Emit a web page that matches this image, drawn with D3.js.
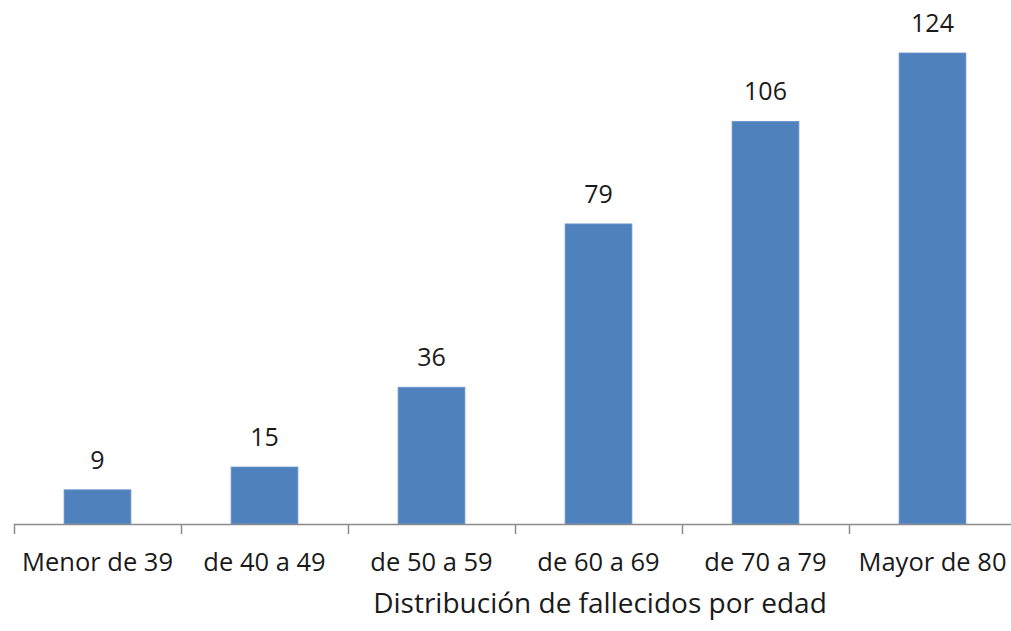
<!DOCTYPE html>
<html><head><meta charset="utf-8">
<script src="https://cdn.jsdelivr.net/npm/d3@7"></script>
<style>body{margin:0;background:#fff}svg{display:block}text{font-family:"Open Sans",sans-serif;fill:#1a1a1a}</style>
</head><body><svg id="c" width="1011" height="631"></svg>
<script>
const categories = ["Menor de 39","de 40 a 49","de 50 a 59","de 60 a 69","de 70 a 79","Mayor de 80"];
const values = [9,15,36,79,106,124];
const title = "Distribución de fallecidos por edad";

const svg = d3.select("#c");
const x = d3.scaleBand().domain(categories).range([14,1016]).paddingInner(0.6).paddingOuter(0.3);
const y = d3.scaleLinear().domain([0,124]).range([524,53]);

svg.selectAll("rect.bar").data(values).join("rect").attr("class","bar")
  .attr("x",(d,i)=>x(categories[i])).attr("width",x.bandwidth())
  .attr("y",d=>y(d)).attr("height",d=>y(0)-y(d))
  .attr("fill","#4f81bd").attr("stroke","#6b95cc").attr("stroke-width",0.8);

const bandStart = x.range()[0];
const g = svg.append("g");
g.append("line").attr("x1",x.range()[0]).attr("x2",x.range()[1]).attr("y1",y(0)+0.5).attr("y2",y(0)+0.5)
  .attr("stroke","#8c8c8c").attr("stroke-width",1.5);
d3.range(categories.length+1).forEach(i=>{
  const xx = Math.round(bandStart + i*x.step())+0.5;
  g.append("line").attr("x1",xx).attr("x2",xx).attr("y1",y(0)).attr("y2",y(0)+10).attr("stroke","#8c8c8c").attr("stroke-width",1.5);
});

svg.selectAll("text.cat").data(categories).join("text").attr("class","cat")
  .attr("x",d=>x(d)+x.bandwidth()/2).attr("y",571).attr("text-anchor","middle")
  .style("font-size","25.5px").text(d=>d);

svg.selectAll("text.val").data(values).join("text").attr("class","val")
  .attr("x",(d,i)=>x(categories[i])+x.bandwidth()/2).attr("y",d=>y(d)-21).attr("text-anchor","middle")
  .style("font-size","25px").text(d=>d);

svg.append("text").attr("x",600).attr("y",613).attr("text-anchor","middle")
  .style("font-size","28px").text(title);
</script></body></html>
